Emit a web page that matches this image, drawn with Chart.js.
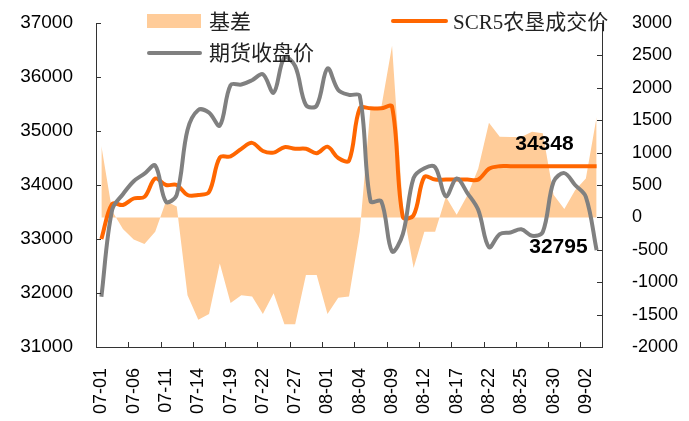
<!DOCTYPE html>
<html>
<head>
<meta charset="utf-8">
<script src="https://cdn.jsdelivr.net/npm/chart.js@4.4.1/dist/chart.umd.min.js"></script>
<style>
html, body { margin: 0; padding: 0; background: #fff; }
</style>
</head>
<body>
<canvas id="basisChart" width="689" height="421"></canvas>
<script>
// etiquetas del eje x (una cada 3 puntos)
var tickLabels = ['07-01', '07-06', '07-11', '07-14', '07-19', '07-22', '07-27', '08-01',
    '08-04', '08-09', '08-12', '08-17', '08-22', '08-25', '08-30', '09-02'];

// SCR5农垦成交价 (eje izquierdo)
var scr5 = [33000, 33650, 33630, 33750, 33780, 34120, 34000, 34000, 33815, 33815,
    33870, 34510, 34530, 34670, 34780, 34630, 34600, 34700, 34670, 34670,
    34590, 34710, 34500, 34450, 35420, 35420, 35420, 35450, 33410, 33440,
    34150, 34100, 34100, 34100, 34100, 34100, 34300, 34348, 34348, 34348,
    34348, 34348, 34348, 34348, 34348, 34348, 34348];

// 期货收盘价 (eje izquierdo)
var futures = [31930, 33540, 33830, 34070, 34210, 34360, 33690, 33820, 35020, 35390,
    35340, 35100, 35850, 35860, 35940, 36050, 35710, 36360, 36200, 35480,
    35470, 36160, 35760, 35670, 35650, 33700, 33700, 32770, 33090, 34130,
    34310, 34330, 33790, 34120, 33850, 33540, 32850, 33090, 33120, 33180,
    33060, 33130, 34060, 34220, 34000, 33780, 32795];

// 基差 (eje derecho)
var basis = [1100, 100, -180, -340, -410, -220, 250, 170, -1200, -1580,
    -1490, -710, -1320, -1200, -1220, -1490, -1170, -1650, -1650, -890,
    -890, -1490, -1240, -1220, -220, 1700, 1700, 2650, 150, -780,
    -220, -220, 320, 40, 340, 750, 1460, 1245, 1240, 1240,
    1320, 1300, 350, 130, 420, 600, 1550];

// categorías: una etiqueta cada 3 puntos
var categories = scr5.map(function(v, i) {
    return i % 3 === 0 ? tickLabels[i / 3] : '';
});

var axisColor = '#333333';
var sansFont = '"Liberation Sans", Arial, sans-serif';
var legendFont = '"Liberation Serif", "Noto Sans CJK SC", serif';

// quitar el relleno automático para fijar el área del gráfico
function fixVertical(width) {
    return function(scale) {
        scale.width = width;
        scale.paddingTop = 0;
        scale.paddingBottom = 0;
    };
}

// marcas de eje hacia dentro, leyenda y etiquetas del último valor
var extras = {
    id: 'extras',
    afterDraw: function(chart) {
        var ctx = chart.ctx;
        var x = chart.scales.x, y = chart.scales.y, y1 = chart.scales.y1;
        var area = chart.chartArea;
        ctx.save();
        ctx.strokeStyle = axisColor;
        ctx.lineWidth = 1;
        ctx.beginPath();
        y.ticks.forEach(function(t) {
            var py = Math.round(y.getPixelForValue(t.value)) + 0.5;
            ctx.moveTo(area.left, py);
            ctx.lineTo(area.left + 5, py);
        });
        y1.ticks.forEach(function(t) {
            var py = Math.round(y1.getPixelForValue(t.value)) + 0.5;
            ctx.moveTo(area.right, py);
            ctx.lineTo(area.right - 5, py);
        });
        for (var i = 3; i < categories.length; i += 3) {
            var px = Math.round((x.getPixelForValue(i - 1) + x.getPixelForValue(i)) / 2) + 0.5;
            ctx.moveTo(px, area.bottom);
            ctx.lineTo(px, area.bottom - 5);
        }
        ctx.stroke();

        // leyenda
        ctx.fillStyle = '#FFCC99';
        ctx.fillRect(147, 14, 54, 14);
        ctx.lineCap = 'round';
        ctx.lineWidth = 4;
        ctx.strokeStyle = '#808080';
        ctx.beginPath(); ctx.moveTo(149, 53); ctx.lineTo(200, 53); ctx.stroke();
        ctx.strokeStyle = '#FF6600';
        ctx.beginPath(); ctx.moveTo(393, 21); ctx.lineTo(446, 21); ctx.stroke();
        ctx.fillStyle = '#222';
        ctx.font = '21px ' + legendFont;
        ctx.textBaseline = 'middle';
        ctx.textAlign = 'left';
        ctx.fillText('基差', 209, 23);
        ctx.fillText('期货收盘价', 209, 54);
        ctx.fillText('SCR5农垦成交价', 453, 23);

        // etiquetas del último valor
        var last = scr5.length - 1;
        var lx = x.getPixelForValue(last);
        ctx.fillStyle = '#000';
        ctx.font = 'bold 21px ' + sansFont;
        ctx.textAlign = 'right';
        ctx.textBaseline = 'alphabetic';
        ctx.fillText(String(scr5[last]), lx - 23, y.getPixelForValue(scr5[last]) - 16);
        ctx.fillText(String(futures[last]), lx - 9, y.getPixelForValue(futures[last]) + 3);
        ctx.restore();
    }
};

var ctx = document.getElementById('basisChart').getContext('2d');
var basisChart = new Chart(ctx, {
    type: 'line',
    data: {
        labels: categories,
        datasets: [{
            label: '期货收盘价',
            data: futures,
            yAxisID: 'y',
            borderColor: '#808080',
            borderWidth: 4,
            pointRadius: 0,
            tension: 0.35,
            fill: false,
            order: 0
        }, {
            label: 'SCR5农垦成交价',
            data: scr5,
            yAxisID: 'y',
            borderColor: '#FF6600',
            borderWidth: 4,
            pointRadius: 0,
            tension: 0.35,
            fill: false,
            order: 1
        }, {
            label: '基差',
            data: basis,
            yAxisID: 'y1',
            borderWidth: 0,
            borderColor: 'rgba(0,0,0,0)',
            backgroundColor: '#FFCC99',
            pointRadius: 0,
            tension: 0,
            fill: 'origin',
            order: 2
        }]
    },
    options: {
        responsive: false,
        animation: false,
        devicePixelRatio: 1,
        layout: { padding: { top: 23, left: 0, right: 0, bottom: 0 } },
        plugins: {
            legend: { display: false },
            tooltip: { enabled: false }
        },
        scales: {
            x: {
                offset: true,
                grid: { display: true, drawOnChartArea: false, drawTicks: false, offset: true, color: 'rgba(0,0,0,0)' },
                border: { display: true, color: axisColor, width: 1 },
                ticks: {
                    autoSkip: false,
                    maxRotation: 90,
                    minRotation: 90,
                    padding: 21,
                    color: '#000',
                    font: { family: sansFont, size: 18 }
                },
                afterFit: function(scale) {
                    scale.height = 74;
                    scale.paddingLeft = 0;
                    scale.paddingRight = 0;
                }
            },
            y: {
                position: 'left',
                min: 31000,
                max: 37000,
                grid: { drawOnChartArea: false, drawTicks: false, color: 'rgba(0,0,0,0)' },
                border: { display: true, color: axisColor, width: 1 },
                ticks: {
                    stepSize: 1000,
                    padding: 23,
                    color: '#000',
                    font: { family: sansFont, size: 19 },
                    callback: function(v) { return String(v); }
                },
                afterFit: fixVertical(96)
            },
            y1: {
                position: 'right',
                min: -2000,
                max: 3000,
                grid: { drawOnChartArea: false, drawTicks: false, color: 'rgba(0,0,0,0)' },
                border: { display: true, color: axisColor, width: 1 },
                ticks: {
                    stepSize: 500,
                    padding: 30,
                    color: '#000',
                    font: { family: sansFont, size: 18 },
                    callback: function(v) { return String(v); }
                },
                afterFit: fixVertical(87)
            }
        }
    },
    plugins: [extras]
});
</script>
</body>
</html>
